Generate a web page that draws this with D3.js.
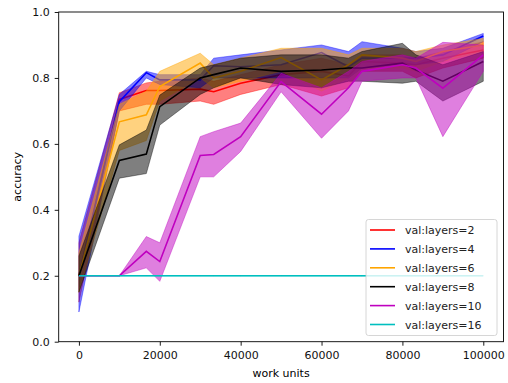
<!DOCTYPE html>
<html>
<head>
<meta charset="utf-8">
<script src="https://cdn.jsdelivr.net/npm/d3@7"></script>
<style>
  body { margin: 0; background: #fff; }
  svg text { font-family: "DejaVu Sans", sans-serif; }
</style>
</head>
<body>
<div id="chart"></div>
<script>
// work units where the runs were evaluated
var steps = [0, 10000, 16667, 20000, 30000, 33333, 40000, 50000, 60000, 66667, 70000, 80000, 83333, 90000, 100000];

var names = ["val:layers=2", "val:layers=4", "val:layers=6", "val:layers=8", "val:layers=10", "val:layers=16"];
var colors = ["#ff0000", "#0000ff", "#ffa500", "#000000", "#bf00bf", "#00bfbf"];

// mean accuracy per series
var mean2  = [0.2, 0.735, 0.762, 0.762, 0.766, 0.758, 0.784, 0.81, 0.82, 0.806, 0.85, 0.845, 0.84, 0.86, 0.885];
var mean4  = [0.2, 0.728, 0.816, 0.794, 0.794, 0.837, 0.834, 0.84, 0.877, 0.834, 0.86, 0.86, 0.86, 0.87, 0.927];
var mean6  = [0.2, 0.667, 0.688, 0.774, 0.845, 0.80, 0.82, 0.862, 0.794, 0.84, 0.87, 0.86, 0.85, 0.88, 0.90];
var mean8  = [0.2, 0.55, 0.569, 0.713, 0.80, 0.81, 0.83, 0.82, 0.824, 0.83, 0.83, 0.845, 0.824, 0.79, 0.85];
var mean10 = [0.2, 0.2, 0.274, 0.243, 0.565, 0.568, 0.622, 0.789, 0.69, 0.77, 0.82, 0.84, 0.83, 0.769, 0.87];
var mean16 = [0.2, 0.2, 0.2, 0.2, 0.2, 0.2, 0.2, 0.2, 0.2, 0.2, 0.2, 0.2, 0.2, 0.2, 0.2];

// lower edge of the band
var lo2  = [0.12, 0.70, 0.72, 0.72, 0.73, 0.72, 0.75, 0.78, 0.745, 0.77, 0.82, 0.82, 0.80, 0.83, 0.86];
var lo4  = [0.09, 0.70, 0.80, 0.78, 0.77, 0.80, 0.80, 0.80, 0.80, 0.80, 0.83, 0.84, 0.84, 0.85, 0.91];
var lo6  = [0.15, 0.58, 0.61, 0.73, 0.80, 0.77, 0.79, 0.82, 0.76, 0.80, 0.83, 0.83, 0.82, 0.85, 0.88];
var lo8  = [0.15, 0.496, 0.51, 0.657, 0.75, 0.77, 0.80, 0.78, 0.77, 0.79, 0.79, 0.784, 0.79, 0.73, 0.79];
var lo10 = [0.2, 0.2, 0.224, 0.183, 0.50, 0.50, 0.577, 0.758, 0.617, 0.70, 0.79, 0.80, 0.80, 0.622, 0.82];
var lo16 = mean16;

// upper edge of the band
var hi2  = [0.30, 0.755, 0.785, 0.79, 0.80, 0.79, 0.81, 0.84, 0.86, 0.84, 0.87, 0.87, 0.86, 0.88, 0.91];
var hi4  = [0.32, 0.75, 0.82, 0.81, 0.81, 0.86, 0.87, 0.885, 0.90, 0.88, 0.91, 0.89, 0.88, 0.89, 0.935];
var hi6  = [0.27, 0.72, 0.76, 0.82, 0.875, 0.84, 0.86, 0.89, 0.89, 0.87, 0.89, 0.89, 0.88, 0.90, 0.92];
var hi8  = [0.26, 0.597, 0.642, 0.748, 0.83, 0.84, 0.86, 0.87, 0.87, 0.86, 0.88, 0.905, 0.87, 0.84, 0.88];
var hi10 = [0.2, 0.2, 0.319, 0.30, 0.622, 0.637, 0.663, 0.814, 0.77, 0.82, 0.85, 0.87, 0.86, 0.908, 0.90];
var hi16 = mean16;

var xTicks = [0, 20000, 40000, 60000, 80000, 100000];
var yTicks = [0.0, 0.2, 0.4, 0.6, 0.8, 1.0];

var means = [mean2, mean4, mean6, mean8, mean10, mean16];
var lows = [lo2, lo4, lo6, lo8, lo10, lo16];
var highs = [hi2, hi4, hi6, hi8, hi10, hi16];

var W = 508, H = 383;
var margin = {top: 12, right: 4.5, bottom: 41.3, left: 58.7};
var w = W - margin.left - margin.right,
    h = H - margin.top - margin.bottom;

var svg = d3.select("#chart").append("svg")
    .attr("width", W)
    .attr("height", H);

var g = svg.append("g")
    .attr("transform", "translate(" + margin.left + "," + margin.top + ")");

var x = d3.scaleLinear().domain([-5000, 105000]).range([0, w]);
var y = d3.scaleLinear().domain([0, 1]).range([h, 0]);

g.append("defs").append("clipPath").attr("id", "clip")
  .append("rect").attr("width", w).attr("height", h);

var plot = g.append("g").attr("clip-path", "url(#clip)");

var area = d3.area()
    .x(function(d) { return x(d.x); })
    .y0(function(d) { return y(d.lo); })
    .y1(function(d) { return y(d.hi); });

var line = d3.line()
    .x(function(d) { return x(d.x); })
    .y(function(d) { return y(d.m); });

names.forEach(function(name, i) {
  var rows = steps.map(function(s, j) {
    return {x: s, m: means[i][j], lo: lows[i][j], hi: highs[i][j]};
  });
  plot.append("path")
      .datum(rows)
      .attr("d", line)
      .attr("fill", "none")
      .attr("stroke", colors[i])
      .attr("stroke-width", 1.6);
  plot.append("path")
      .datum(rows)
      .attr("d", area)
      .attr("fill", colors[i])
      .attr("fill-opacity", 0.5)
      .attr("stroke", colors[i])
      .attr("stroke-opacity", 0.5)
      .attr("stroke-width", 0.8);
});

// axes
var xAxis = g.append("g")
    .attr("transform", "translate(0," + h + ")")
    .call(d3.axisBottom(x).tickValues(xTicks).tickFormat(d3.format("d")).tickSize(4).tickPadding(5.5));
var yAxis = g.append("g")
    .call(d3.axisLeft(y).tickValues(yTicks).tickFormat(d3.format(".1f")).tickSize(4).tickPadding(5));

[xAxis, yAxis].forEach(function(a) {
  a.select(".domain").remove();
  a.selectAll(".tick line").attr("stroke", "#000").attr("stroke-width", 0.9);
  a.selectAll(".tick text").attr("fill", "#111").style("font-size", "11px");
});

g.append("rect")
    .attr("width", w)
    .attr("height", h)
    .attr("fill", "none")
    .attr("stroke", "#000")
    .attr("stroke-width", 0.9);

svg.append("text")
    .text("work units")
    .attr("x", margin.left + w / 2)
    .attr("y", 377)
    .attr("text-anchor", "middle")
    .style("font-size", "11px");

svg.append("text")
    .text("accuracy")
    .attr("transform", "translate(21," + (margin.top + h / 2) + ") rotate(-90)")
    .attr("text-anchor", "middle")
    .style("font-size", "11px");

// legend
var lg = svg.append("g").attr("transform", "translate(366,219.5)");
lg.append("rect")
    .attr("width", 131)
    .attr("height", 116)
    .attr("rx", 2.5)
    .attr("fill", "#fff")
    .attr("fill-opacity", 0.8)
    .attr("stroke", "#cccccc")
    .attr("stroke-width", 0.8);

names.forEach(function(name, i) {
  var ly = 10.5 + i * 18.9;
  lg.append("line")
      .attr("x1", 4).attr("x2", 29)
      .attr("y1", ly).attr("y2", ly)
      .attr("stroke", colors[i])
      .attr("stroke-width", 1.6);
  lg.append("text")
      .text(name)
      .attr("x", 39)
      .attr("y", ly + 4)
      .attr("fill", "#222")
      .style("font-size", "11px");
});
</script>
</body>
</html>
